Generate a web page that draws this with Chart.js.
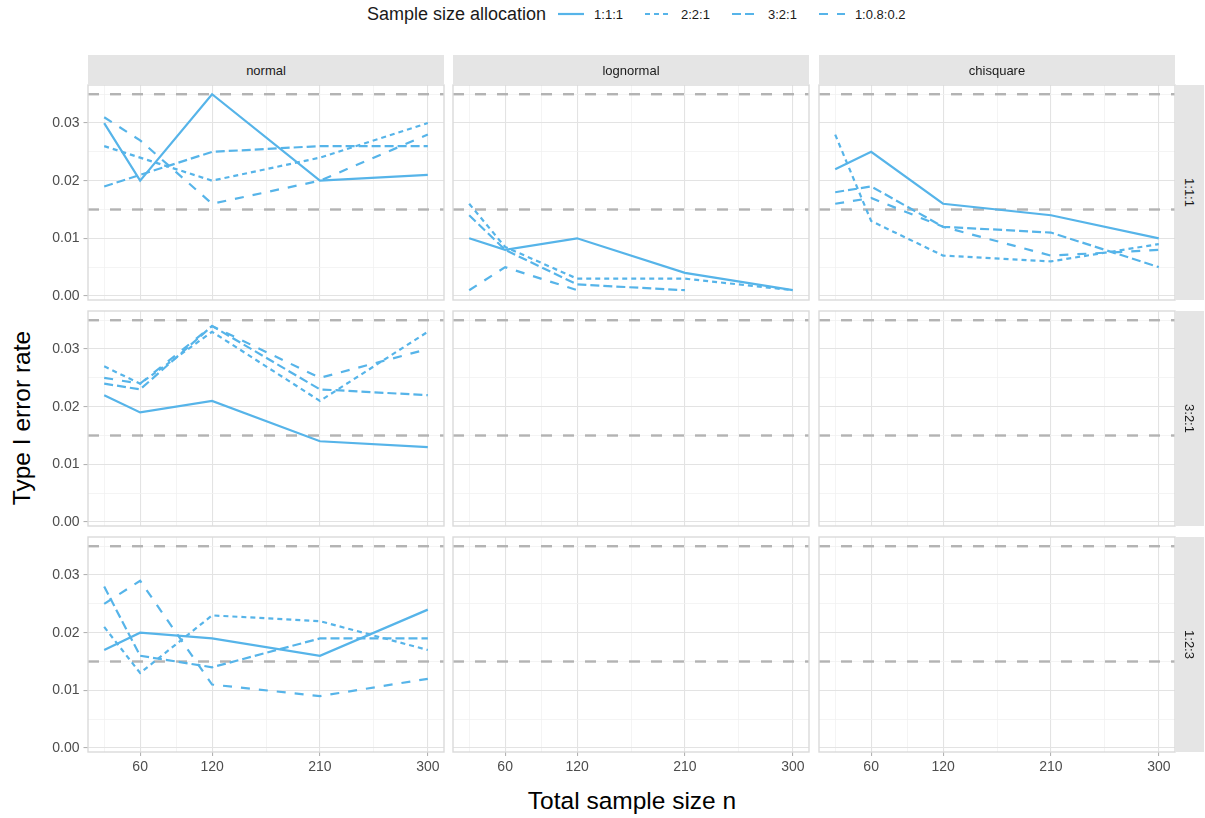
<!DOCTYPE html>
<html>
<head>
<meta charset="utf-8">
<title>Type I error rate by sample size</title>
<script src="https://cdn.jsdelivr.net/npm/chart.js@4"></script>
<style>
  body { margin: 0; background: #fff; font-family: "Liberation Sans", Arial, sans-serif; }
  #wrap { position: relative; width: 1205px; height: 818px; overflow: hidden; }
  canvas { position: absolute; }
  .strip { position: absolute; background: #e5e5e5; color: #1a1a1a; font-size: 13px;
           display: flex; align-items: center; justify-content: center; }
  .strip.side span { transform: rotate(90deg); white-space: nowrap; }
  .axis-title { position: absolute; font-size: 24.5px; color: #000; white-space: nowrap;
                transform: translate(-50%, -50%); }
  #legend { position: absolute; left: 367px; top: 3px; height: 22px; display: flex; align-items: center;
            font-size: 13px; color: #1a1a1a; }
  #legend .title { font-size: 18px; margin-right: 12px; }
  #legend svg { margin-right: 10px; }
  #legend .lab { margin-right: 22px; }
</style>
</head>
<body>
<div id="wrap">
  <div id="legend"></div>
  <div class="axis-title" style="left:632px; top:801px;">Total sample size n</div>
  <div class="axis-title" style="left:22px; top:418px; transform: translate(-50%, -50%) rotate(-90deg);">Type I error rate</div>
</div>
<script>
// x values and tick marks
const sampleSizes = [30, 60, 120, 210, 300];
const xMajor = [60, 120, 210, 300];
const xMinor = [30, 90, 165, 255];
const yMajor = [0, 0.01, 0.02, 0.03];
const yMinor = [0.005, 0.015, 0.025, 0.035];
const refLines = [0.015, 0.035];

const distributions = ['normal', 'lognormal', 'chisquare'];
const designs = ['1:1:1', '3:2:1', '1:2:3'];
const allocations = ['1:1:1', '2:2:1', '3:2:1', '1:0.8:0.2'];

// design 1:1:1
const normal111_a = [0.030, 0.020, 0.035, 0.020, 0.021];
const normal111_b = [0.026, 0.024, 0.020, 0.024, 0.030];
const normal111_c = [0.019, 0.021, 0.025, 0.026, 0.026];
const normal111_d = [0.031, 0.027, 0.016, 0.020, 0.028];

const lognormal111_a = [0.010, 0.008, 0.010, 0.004, 0.001];
const lognormal111_b = [0.016, 0.0085, 0.003, 0.003, 0.001];
const lognormal111_c = [0.014, 0.008, 0.002, 0.001, null];
const lognormal111_d = [0.001, 0.005, 0.001, null, null];

const chisq111_a = [0.022, 0.025, 0.016, 0.014, 0.010];
const chisq111_b = [0.028, 0.013, 0.007, 0.006, 0.009];
const chisq111_c = [0.018, 0.019, 0.012, 0.011, 0.005];
const chisq111_d = [0.016, 0.017, 0.012, 0.007, 0.008];

// design 3:2:1
const normal321_a = [0.022, 0.019, 0.021, 0.014, 0.013];
const normal321_b = [0.027, 0.024, 0.033, 0.021, 0.033];
const normal321_c = [0.024, 0.023, 0.034, 0.023, 0.022];
const normal321_d = [0.025, 0.024, 0.034, 0.025, 0.030];

// design 1:2:3
const normal123_a = [0.017, 0.020, 0.019, 0.016, 0.024];
const normal123_b = [0.021, 0.013, 0.023, 0.022, 0.017];
const normal123_c = [0.028, 0.016, 0.014, 0.019, 0.019];
const normal123_d = [0.025, 0.029, 0.011, 0.009, 0.012];

// [row][col] -> series in allocation order; empty panels have no lines
const panelSeries = [
  [[normal111_a, normal111_b, normal111_c, normal111_d],
   [lognormal111_a, lognormal111_b, lognormal111_c, lognormal111_d],
   [chisq111_a, chisq111_b, chisq111_c, chisq111_d]],
  [[normal321_a, normal321_b, normal321_c, normal321_d], [], []],
  [[normal123_a, normal123_b, normal123_c, normal123_d], [], []]
];

// styling
const lineColor = '#56B4E9';
const dashes = [[], [5, 4], [9, 4], [9, 9]];
const colLeft = [88, 453, 819];
const rowTop = [85, 311, 537];
const panelW = 356, panelH = 215;

const near = (arr, v) => arr.some(m => Math.abs(m - v) < 1e-9);

const panelDecor = {
  id: 'panelDecor',
  beforeDatasetsDraw(chart) {
    const { ctx, chartArea: a, scales: { y } } = chart;
    ctx.save();
    ctx.strokeStyle = '#b3b3b3';
    ctx.lineWidth = 2.4;
    ctx.setLineDash([11, 11]);
    refLines.forEach(v => {
      const py = y.getPixelForValue(v);
      ctx.beginPath();
      ctx.moveTo(a.left, py);
      ctx.lineTo(a.right, py);
      ctx.stroke();
    });
    ctx.restore();
  },
  afterDraw(chart) {
    const { ctx, chartArea: a } = chart;
    ctx.save();
    ctx.strokeStyle = '#dadada';
    ctx.lineWidth = 1.4;
    ctx.strokeRect(a.left, a.top, a.right - a.left, a.bottom - a.top);
    ctx.restore();
  }
};

const wrap = document.getElementById('wrap');

function makePanel(r, c) {
  const leftCol = c === 0, bottomRow = r === 2;
  // room around the plot area so tick-label padding never squeezes it
  const ext = 20;
  const axisW = leftCol ? 60 : 0, axisH = bottomRow ? 30 : 0;
  const extL = ext + axisW, extB = ext + axisH;
  const cv = document.createElement('canvas');
  const w = panelW + extL + ext, h = panelH + ext + extB;
  cv.width = w; cv.height = h;
  cv.style.left = (colLeft[c] - extL) + 'px';
  cv.style.top = (rowTop[r] - ext) + 'px';
  cv.style.width = w + 'px'; cv.style.height = h + 'px';
  wrap.appendChild(cv);

  const datasets = panelSeries[r][c].map((vals, i) => ({
    label: allocations[i],
    data: vals.map((v, k) => ({ x: sampleSizes[k], y: v })),
    borderColor: lineColor,
    borderWidth: 2.2,
    borderDash: dashes[i],
    pointRadius: 0,
    tension: 0,
    spanGaps: false
  }));

  new Chart(cv, {
    type: 'line',
    data: { datasets },
    options: {
      responsive: false,
      animation: false,
      devicePixelRatio: 1,
      layout: { padding: { left: ext, right: ext, top: ext, bottom: ext } },
      plugins: { legend: { display: false }, tooltip: { enabled: false } },
      scales: {
        x: {
          type: 'linear', min: 16.5, max: 313.5,
          afterBuildTicks: s => { s.ticks = [...xMajor, ...xMinor].sort((a, b) => a - b).map(v => ({ value: v })); },
          afterFit: s => { s.height = axisH; },
          border: { display: false },
          grid: {
            color: ctx => near(xMajor, ctx.tick.value) ? '#e3e3e3' : '#f1f1f1',
            lineWidth: ctx => near(xMajor, ctx.tick.value) ? 1.1 : 0.8,
            drawTicks: bottomRow, tickLength: 4,
            tickColor: ctx => near(xMajor, ctx.tick.value) ? '#b3b3b3' : 'rgba(0,0,0,0)'
          },
          ticks: {
            display: bottomRow, autoSkip: false, maxRotation: 0, padding: 3,
            color: '#4d4d4d', font: { family: '"Liberation Sans", Arial', size: 14 },
            callback: v => near(xMajor, v) ? String(v) : ''
          }
        },
        y: {
          type: 'linear', min: -0.0007, max: 0.0366,
          afterBuildTicks: s => { s.ticks = [...yMajor, ...yMinor].sort((a, b) => a - b).map(v => ({ value: v })); },
          afterFit: s => { s.width = axisW; },
          border: { display: false },
          grid: {
            color: ctx => near(yMajor, ctx.tick.value) ? '#e3e3e3' : '#f1f1f1',
            lineWidth: ctx => near(yMajor, ctx.tick.value) ? 1.1 : 0.8,
            drawTicks: leftCol, tickLength: 4.5,
            tickColor: ctx => near(yMajor, ctx.tick.value) ? '#b3b3b3' : 'rgba(0,0,0,0)'
          },
          ticks: {
            display: leftCol, autoSkip: false, padding: 4,
            color: '#4d4d4d', font: { family: '"Liberation Sans", Arial', size: 14 },
            callback: v => near(yMajor, v) ? v.toFixed(2) : ''
          }
        }
      }
    },
    plugins: [panelDecor]
  });
}

for (let r = 0; r < 3; r++) for (let c = 0; c < 3; c++) makePanel(r, c);

// facet strips
distributions.forEach((d, c) => {
  const s = document.createElement('div');
  s.className = 'strip';
  Object.assign(s.style, { left: colLeft[c] + 'px', top: '55px', width: panelW + 'px', height: '30px' });
  s.textContent = d;
  wrap.appendChild(s);
});
designs.forEach((d, r) => {
  const s = document.createElement('div');
  s.className = 'strip side';
  Object.assign(s.style, { left: (colLeft[2] + panelW) + 'px', top: rowTop[r] + 'px', width: '29px', height: panelH + 'px' });
  s.innerHTML = '<span>' + d + '</span>';
  wrap.appendChild(s);
});

// legend
const legend = document.getElementById('legend');
legend.innerHTML = '<span class="title">Sample size allocation</span>' + allocations.map((a, i) =>
  '<svg width="26" height="10"><line x1="0" y1="5" x2="26" y2="5" stroke="' + lineColor +
  '" stroke-width="2.2" stroke-dasharray="' + (dashes[i].length ? dashes[i].join(' ') : 'none') + '"/></svg>' +
  '<span class="lab">' + a + '</span>').join('');
</script>
</body>
</html>
